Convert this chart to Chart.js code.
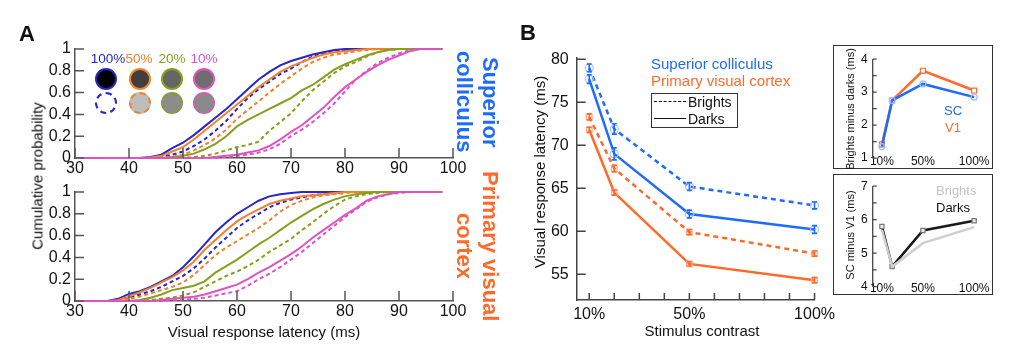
<!DOCTYPE html>
<html>
<head>
<meta charset="utf-8">
<script src="https://cdn.jsdelivr.net/npm/chart.js@4.4.0/dist/chart.umd.min.js"></script>
<style>
body { margin: 0; background: #fff; }
#fig { position: relative; width: 1024px; height: 353px; overflow: hidden; font-family: "Liberation Sans", Arial, sans-serif; color: #111; }
canvas { position: absolute; }
.t { position: absolute; white-space: nowrap; line-height: 1; transform: translate(-50%, -50%); }
.l { position: absolute; white-space: nowrap; line-height: 1; transform: translate(0, -50%); }
.r { transform: translate(-50%, -50%) rotate(-90deg); }
.c { position: absolute; width: 22px; height: 22px; border-radius: 50%; box-sizing: border-box; border: 2.5px solid; transform: translate(-50%, -50%); }
.vt { position: absolute; writing-mode: vertical-rl; text-align: center; font-weight: bold; font-size: 22px; line-height: 26px; height: 170px; white-space: nowrap; }
.box { position: absolute; border: 1.3px solid #333; box-sizing: border-box; }
</style>
</head>
<body>
<div id="fig">
  <canvas id="cdfSC" width="470" height="150" style="left:0;top:34px"></canvas>
  <canvas id="cdfV1" width="470" height="150" style="left:0;top:177px"></canvas>
  <canvas id="latency" width="340" height="290" style="left:500px;top:40px"></canvas>
  <div class="box" style="left:833px;top:45px;width:160px;height:124px"></div>
  <div class="box" style="left:833px;top:174px;width:160px;height:121px"></div>
  <canvas id="diffBD" width="154" height="125" style="left:836px;top:47px"></canvas>
  <canvas id="diffArea" width="154" height="125" style="left:836px;top:174px"></canvas>

  <!-- panel A text -->
  <div class="t" style="left:27px;top:34px;font-size:22px;font-weight:bold">A</div>
  <div class="t" style="left:108px;top:59px;font-size:13.5px;color:#2626c9">100%</div>
  <div class="t" style="left:139px;top:59px;font-size:13.5px;color:#f3802d">50%</div>
  <div class="t" style="left:172px;top:59px;font-size:13.5px;color:#84a01c">20%</div>
  <div class="t" style="left:204px;top:59px;font-size:13.5px;color:#e052c4">10%</div>
  <div class="c" style="left:106px;top:79px;background:#000;border-color:#2626c9"></div>
  <div class="c" style="left:140px;top:79px;background:#3f3f3f;border-color:#f3802d"></div>
  <div class="c" style="left:172px;top:79px;background:#666;border-color:#84a01c"></div>
  <div class="c" style="left:204px;top:79px;background:#6e6e6e;border-color:#e052c4"></div>
  <div class="c" style="left:106px;top:103px;background:#fff;border-color:#2626c9;border-style:dashed"></div>
  <div class="c" style="left:140px;top:103px;background:#bdbdbd;border-color:#f3802d;border-style:dashed"></div>
  <div class="c" style="left:172px;top:103px;background:#8c8c8c;border-color:#84a01c;border-style:dashed"></div>
  <div class="c" style="left:204px;top:103px;background:#8a8a8a;border-color:#e052c4;border-style:dashed"></div>
  <div class="vt" style="left:451px;top:17px;color:#1f6bff">Superior<br>colliculus</div>
  <div class="vt" style="left:451px;top:161px;color:#ff6a2a">Primary visual<br>cortex</div>
  <div class="t r" style="left:37px;top:176px;font-size:15px">Cumulative probability</div>
  <div class="t" style="left:264px;top:331px;font-size:15px">Visual response latency (ms)</div>

  <!-- panel B text -->
  <div class="t" style="left:528px;top:33px;font-size:22px;font-weight:bold">B</div>
  <div class="t r" style="left:539px;top:172px;font-size:15px">Visual response latency (ms)</div>
  <div class="t" style="left:702px;top:330px;font-size:15px">Stimulus contrast</div>
  <div class="l" style="left:651px;top:63px;font-size:15px;color:#1f6bff">Superior colliculus</div>
  <div class="l" style="left:651px;top:80px;font-size:15px;color:#ff6a2a">Primary visual cortex</div>
  <div class="box" style="left:651px;top:93px;width:87px;height:35px"></div>
  <div style="position:absolute;left:654px;top:101px;width:32px;border-top:1.3px dashed #111"></div>
  <div class="l" style="left:688px;top:102px;font-size:14px">Brights</div>
  <div style="position:absolute;left:654px;top:118px;width:32px;border-top:1.3px solid #111"></div>
  <div class="l" style="left:688px;top:119px;font-size:14px">Darks</div>
  <div class="t r" style="left:850px;top:109px;font-size:11px">Brights minus darks (ms)</div>
  <div class="t r" style="left:850px;top:235px;font-size:11px">SC minus V1 (ms)</div>
  <div class="t" style="left:953px;top:110px;font-size:13px;color:#1f6bff">SC</div>
  <div class="t" style="left:953px;top:127px;font-size:13px;color:#ff6a2a">V1</div>
  <div class="l" style="left:936px;top:190px;font-size:13px;color:#c4c4c4">Brights</div>
  <div class="l" style="left:936px;top:207px;font-size:13px;color:#111">Darks</div>
</div>

<script>
// ---- panel A: cumulative distributions of response latency ----
var latencyMs = [30, 32, 34, 36, 38, 40, 42, 44, 46, 48, 50, 52, 54, 56, 58, 60, 62, 64, 66, 68,
                 70, 72, 74, 76, 78, 80, 82, 84, 86, 88, 90, 92, 94, 96, 98];
var latencyTicks = [30, 40, 50, 60, 70, 80, 90, 100];
var probTicks = [0, 0.2, 0.4, 0.6, 0.8, 1];

// superior colliculus
var scDark100   = [0,0,0,0,0,0,0, .01,.03,.09,.14,.21,.29,.37,.45,.54,.63,.72,.79,.85,.89,.92,.95,.97,.99, 1,1,1,1,1,1,1,1,1,1];
var scBright100 = [0,0,0,0,0,0,0,0, .01,.03,.06,.11,.17,.25,.34,.45,.55,.63,.70,.77,.82,.88,.93,.96,.98,.99, 1,1,1,1,1,1,1,1,1];
var scDark50    = [0,0,0,0,0,0,0, .005,.02,.06,.10,.17,.25,.33,.41,.49,.57,.65,.72,.79,.84,.88,.92,.95,.97,.98,.99, 1,1,1,1,1,1,1,1];
var scBright50  = [0,0,0,0,0,0,0,0, .005,.01,.03,.07,.12,.18,.26,.36,.44,.52,.60,.68,.75,.82,.88,.92,.95,.96,.98,.99, 1,1,1,1,1,1,1];
var scDark20    = [0,0,0,0,0,0,0,0,0, .01,.02,.04,.08,.13,.20,.29,.35,.40,.45,.50,.55,.62,.67,.74,.81,.86,.90,.94,.97,.99, 1,1,1,1,1];
var scBright20  = [0,0,0,0,0,0,0,0,0,0,0, .01,.02,.04,.07,.10,.12,.15,.25,.33,.41,.52,.62,.70,.78,.84,.88,.93,.97,.99, 1,1,1,1,1];
var scDark10    = [0,0,0,0,0,0,0,0,0,0,0,0,0, .01,.02,.03,.05,.07,.11,.17,.24,.30,.38,.46,.56,.65,.72,.79,.85,.90,.94,.98, 1,1,1];
var scBright10  = [0,0,0,0,0,0,0,0,0,0,0,0,0,0, .01,.02,.03,.05,.08,.13,.20,.26,.33,.41,.50,.61,.72,.80,.87,.92,.96,.99, 1,1,1];

// primary visual cortex
var v1Dark100   = [0,0,0,0, .02,.065,.09,.13,.18,.23,.31,.41,.52,.63,.72,.80,.86,.92,.96,.98,.99, 1,1,1,1,1,1,1,1,1,1,1,1,1,1];
var v1Bright100 = [0,0,0,0,0, .03,.06,.09,.13,.18,.23,.30,.39,.49,.58,.67,.74,.80,.86,.90,.93,.95,.97,.98,.99, 1,1,1,1,1,1,1,1,1,1];
var v1Dark50    = [0,0,0,0, .01,.04,.08,.12,.17,.22,.28,.36,.47,.56,.65,.73,.79,.84,.89,.92,.94,.96,.97,.98,.99, 1,1,1,1,1,1,1,1,1,1];
var v1Bright50  = [0,0,0,0,0, .02,.04,.07,.10,.13,.17,.24,.33,.42,.49,.55,.61,.67,.74,.82,.88,.92,.95,.97,.98,.99, 1,1,1,1,1,1,1,1,1];
var v1Dark20    = [0,0,0,0,0,0, .01,.03,.06,.10,.12,.14,.18,.26,.32,.38,.45,.52,.58,.65,.72,.78,.84,.89,.93,.96,.98,.99, 1,1,1,1,1,1,1];
var v1Bright20  = [0,0,0,0,0,0,0, .01,.02,.03,.05,.08,.13,.18,.23,.27,.32,.38,.45,.51,.57,.65,.72,.80,.87,.93,.96,.98,.99, 1,1,1,1,1,1];
var v1Dark10    = [0,0,0,0,0,0,0,0, .01,.02,.03,.04,.06,.09,.12,.15,.20,.26,.31,.37,.43,.50,.58,.65,.72,.79,.85,.92,.96,.98, 1,1,1,1,1];
var v1Bright10  = [0,0,0,0,0,0,0,0,0, .01,.01,.02,.03,.05,.07,.09,.14,.20,.25,.31,.38,.45,.53,.61,.69,.77,.84,.91,.95,.98,.99, 1,1,1,1];

// ---- panel B: latency vs contrast ----
var contrastPct = [10, 20, 50, 100];
var contrastTicks = [10, 20, 30, 40, 50, 60, 70, 80, 90, 100];
var contrastLabeled = [10, 50, 100];
var latencyAxisTicks = [55, 60, 65, 70, 75, 80];
var scBrights = [79.0, 71.9, 65.2, 63.0];
var scDarks   = [77.7, 69.0, 62.0, 60.2];
var v1Brights = [73.3, 67.3, 59.9, 57.4];
var v1Darks   = [71.8, 64.5, 56.2, 54.3];
var scBrightsErr = [0.45, 0.6, 0.45, 0.4];
var scDarksErr   = [0.5, 0.7, 0.45, 0.45];
var v1BrightsErr = [0.35, 0.4, 0.3, 0.3];
var v1DarksErr   = [0.3, 0.3, 0.25, 0.3];

// insets
var insetLabeled = [10, 50, 100];
var brightMinusDarkSC = [1.35, 2.75, 3.25, 2.85];
var brightMinusDarkV1 = [1.42, 2.75, 3.65, 3.05];
var scMinusV1Brights  = [5.7, 4.6, 5.3, 5.78];
var scMinusV1Darks    = [5.8, 4.6, 5.68, 5.97];
var diffBDTicks   = [1, 1.5, 2, 2.5, 3, 3.5, 4];
var diffAreaTicks = [4, 4.5, 5, 5.5, 6, 6.5, 7];

var BLUE = '#1f6bff', ORANGE = '#ff6a2a';
var C100 = '#2626c9', C50 = '#f3802d', C20 = '#84a01c', C10 = '#e052c4';

Chart.defaults.font.family = "'Liberation Sans', Arial, sans-serif";
Chart.defaults.color = '#111';
Chart.defaults.animation = false;
Chart.defaults.plugins.legend.display = false;
Chart.defaults.plugins.tooltip.enabled = false;

// matlab style ticks pointing into the plot (and optional y axis line over all ticks)
var innerTicks = {
    id: 'innerTicks',
    afterDraw: function(chart, args, opts) {
        var ctx = chart.ctx;
        ctx.save();
        ctx.strokeStyle = opts.color;
        ctx.lineWidth = opts.width;
        ctx.beginPath();
        ['x', 'y'].forEach(function(id) {
            var len = opts[id];
            var scale = chart.scales[id];
            if (!len) return;
            scale.ticks.forEach(function(t) {
                var p = scale.getPixelForValue(t.value);
                if (id === 'x') { ctx.moveTo(p, scale.top); ctx.lineTo(p, scale.top - len); }
                else { ctx.moveTo(scale.right, p); ctx.lineTo(scale.right + len, p); }
            });
        });
        if (opts.yLine) {
            var ys = chart.scales.y;
            ctx.moveTo(ys.right, ys.getPixelForValue(ys.ticks[0].value));
            ctx.lineTo(ys.right, ys.getPixelForValue(ys.ticks[ys.ticks.length - 1].value));
        }
        ctx.stroke();
        ctx.restore();
    }
};

var errorBars = {
    id: 'errorBars',
    afterDatasetsDraw: function(chart) {
        var ctx = chart.ctx;
        var yScale = chart.scales.y;
        chart.data.datasets.forEach(function(ds, i) {
            if (!ds.errors) return;
            var meta = chart.getDatasetMeta(i);
            ctx.save();
            ctx.strokeStyle = ds.borderColor;
            ctx.lineWidth = 1.6;
            ctx.beginPath();
            meta.data.forEach(function(pt, j) {
                var v = ds.data[j].y, e = ds.errors[j];
                var top = yScale.getPixelForValue(v + e), bot = yScale.getPixelForValue(v - e);
                ctx.moveTo(pt.x, top); ctx.lineTo(pt.x, bot);
                ctx.moveTo(pt.x - 2.5, top); ctx.lineTo(pt.x + 2.5, top);
                ctx.moveTo(pt.x - 2.5, bot); ctx.lineTo(pt.x + 2.5, bot);
            });
            ctx.stroke();
            ctx.restore();
        });
    }
};

function toXY(xs, ys) {
    return xs.map(function(x, i) { return {x: x, y: ys[i]}; });
}

function setTicks(values) {
    return function(scale) { scale.ticks = values.map(function(v) { return {value: v}; }); };
}

function cdfChart(id, series) {
    return new Chart(document.getElementById(id), {
        type: 'line',
        data: {
            datasets: series.map(function(s) {
                return {
                    data: toXY(latencyMs, s.values),
                    borderColor: s.color,
                    borderWidth: 2,
                    borderDash: s.dash ? [4, 3] : [],
                    pointRadius: 0,
                    tension: 0,
                    clip: false
                };
            })
        },
        options: {
            responsive: false,
            layout: { padding: { top: 15, right: 17, left: 0, bottom: 0 } },
            scales: {
                x: {
                    type: 'linear', min: 30, max: 100,
                    afterBuildTicks: setTicks(latencyTicks),
                    afterFit: function(s) { s.height = 26; },
                    grid: { display: false, drawTicks: false },
                    border: { color: '#555', width: 1.5 },
                    ticks: { font: { size: 16 }, padding: 1, autoSkip: false, maxRotation: 0 }
                },
                y: {
                    min: 0, max: 1,
                    afterBuildTicks: setTicks(probTicks),
                    afterFit: function(s) { s.width = 75; },
                    grid: { display: false, drawTicks: false },
                    border: { color: '#555', width: 1.5 },
                    ticks: { font: { size: 16 }, padding: 4, autoSkip: false,
                             callback: function(v) { return String(v); } }
                }
            },
            plugins: { innerTicks: { color: '#555', width: 1.5, x: 10, y: 9 } }
        },
        plugins: [innerTicks]
    });
}

cdfChart('cdfSC', [
    { values: scBright10, color: C10, dash: true },
    { values: scDark10, color: C10 },
    { values: scBright20, color: C20, dash: true },
    { values: scDark20, color: C20 },
    { values: scBright50, color: C50, dash: true },
    { values: scDark50, color: C50 },
    { values: scBright100, color: C100, dash: true },
    { values: scDark100, color: C100 }
]);

cdfChart('cdfV1', [
    { values: v1Bright10, color: C10, dash: true },
    { values: v1Dark10, color: C10 },
    { values: v1Bright20, color: C20, dash: true },
    { values: v1Dark20, color: C20 },
    { values: v1Bright50, color: C50, dash: true },
    { values: v1Dark50, color: C50 },
    { values: v1Bright100, color: C100, dash: true },
    { values: v1Dark100, color: C100 }
]);

function contrastLine(values, errors, color, light, dash, marker) {
    return {
        data: toXY(contrastPct, values),
        errors: errors,
        borderColor: color,
        borderWidth: 2.5,
        borderDash: dash ? [5, 4] : [],
        pointStyle: marker,
        pointRadius: 4,
        pointBorderColor: light,
        pointBackgroundColor: 'rgba(255,255,255,0)',
        pointBorderWidth: 1.2,
        tension: 0,
        clip: false
    };
}

new Chart(document.getElementById('latency'), {
    type: 'line',
    data: {
        datasets: [
            contrastLine(v1Darks, v1DarksErr, ORANGE, '#ffab88', false, 'rect'),
            contrastLine(v1Brights, v1BrightsErr, ORANGE, '#ffab88', true, 'rect'),
            contrastLine(scDarks, scDarksErr, BLUE, '#a6c4ff', false, 'circle'),
            contrastLine(scBrights, scBrightsErr, BLUE, '#a6c4ff', true, 'circle')
        ]
    },
    options: {
        responsive: false,
        layout: { padding: { top: 14.5, right: 10.7, left: 0, bottom: 0 } },
        scales: {
            x: {
                type: 'linear', min: 5, max: 100,
                afterBuildTicks: setTicks(contrastTicks),
                afterFit: function(s) { s.height = 30; },
                grid: { display: false, drawTicks: false },
                border: { color: '#444', width: 1.5 },
                ticks: {
                    font: { size: 16 }, padding: 5, autoSkip: false, maxRotation: 0,
                    callback: function(v) { return contrastLabeled.indexOf(v) >= 0 ? v + '%' : ''; }
                }
            },
            y: {
                min: 52, max: 80.2,
                afterBuildTicks: setTicks(latencyAxisTicks),
                afterFit: function(s) { s.width = 76.7; },
                grid: { display: false, drawTicks: false },
                border: { color: '#444', width: 1.5 },
                ticks: { font: { size: 16 }, padding: 8, autoSkip: false }
            }
        },
        plugins: { innerTicks: { color: '#444', width: 1.5, x: 7, y: 9 } }
    },
    plugins: [innerTicks, errorBars]
});

// the x labels of the insets sit level with the lowest y tick, so the plot area stops a bit above it
function insetChart(id, datasets, yMin, yMax, yTicks, padTop, xHeight) {
    return new Chart(document.getElementById(id), {
        type: 'line',
        data: { datasets: datasets },
        options: {
            responsive: false,
            layout: { padding: { top: padTop, right: 10.5, left: 0, bottom: 0 } },
            scales: {
                x: {
                    type: 'linear', min: 1, max: 105,
                    afterBuildTicks: setTicks(insetLabeled),
                    afterFit: function(s) { s.height = xHeight; },
                    grid: { display: false, drawTicks: false },
                    border: { display: false },
                    ticks: { font: { size: 12 }, padding: 0, autoSkip: false, maxRotation: 0,
                             callback: function(v) { return v + '%'; } }
                },
                y: {
                    min: yMin, max: yMax,
                    afterBuildTicks: setTicks(yTicks),
                    afterFit: function(s) { s.width = 36.7; },
                    grid: { display: false, drawTicks: false },
                    border: { display: false },
                    ticks: { font: { size: 12 }, padding: 5, autoSkip: false,
                             callback: function(v) { return Number.isInteger(v) ? String(v) : ''; } }
                }
            },
            plugins: { innerTicks: { color: '#444', width: 1.3, y: 4, yLine: true } }
        },
        plugins: [innerTicks]
    });
}

insetChart('diffBD', [
    { data: toXY(contrastPct, brightMinusDarkSC), borderColor: BLUE, borderWidth: 2.5, tension: 0, clip: false,
      pointStyle: 'circle', pointRadius: 3, pointBorderColor: '#9dbcff', pointBackgroundColor: 'rgba(255,255,255,0)', pointBorderWidth: 1.2 },
    { data: toXY(contrastPct, brightMinusDarkV1), borderColor: ORANGE, borderWidth: 2.5, tension: 0, clip: false,
      pointStyle: 'rect', pointRadius: 3.5, pointBorderColor: ORANGE, pointBackgroundColor: '#fff', pointBorderWidth: 1.2 }
], 1.12, 4, diffBDTicks, 9.7, 17.8);

insetChart('diffArea', [
    { data: toXY(contrastPct, scMinusV1Brights), borderColor: '#cfcfcf', borderWidth: 2.5, tension: 0, clip: false, pointRadius: 0 },
    { data: toXY(contrastPct, scMinusV1Darks), borderColor: '#1a1a1a', borderWidth: 2.5, tension: 0, clip: false,
      pointStyle: 'rect', pointRadius: 3, pointBorderColor: '#777', pointBackgroundColor: '#eee', pointBorderWidth: 1.2 }
], 4.17, 7, diffAreaTicks, 9.2, 18);
</script>
</body>
</html>
